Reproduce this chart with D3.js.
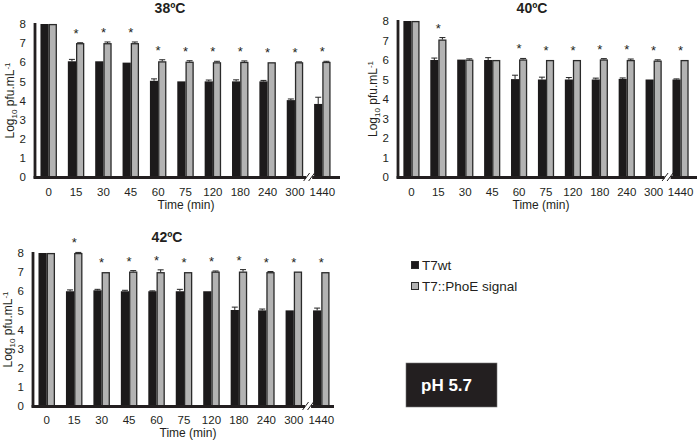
<!DOCTYPE html>
<html><head><meta charset="utf-8">
<script src="https://cdn.jsdelivr.net/npm/d3@7"></script>
<style>
html,body{margin:0;padding:0;background:#fff;}
svg{display:block;}
text{font-family:"Liberation Sans",Arial,sans-serif;fill:#231f20;}
</style></head>
<body>
<svg id="chart" width="697" height="441"></svg>
<script>
// ---------- data ----------
const categories = ["0","15","30","45","60","75","120","180","240","300","1440"];
const yTicks = [0,1,2,3,4,5,6,7,8];
const seriesNames = ["T7wt","T7::PhoE signal"];

const wt38   = [8, 6.05, 6.05, 5.98, 5.03, 5.0, 5.0, 5.0, 5.0, 4.02, 3.82];
const wt38E  = [0, 0.1, 0, 0, 0.1, 0, 0.07, 0.08, 0.05, 0.06, 0.35];
const ph38   = [8, 7.0, 7.0, 7.0, 6.05, 6.03, 6.0, 6.02, 6.0, 6.0, 6.02];
const ph38E  = [0, 0.02, 0.06, 0.06, 0.08, 0.05, 0.05, 0.05, 0, 0.02, 0.03];
const sig38  = [0,1,1,1,1,1,1,1,1,1,1];

const wt40   = [8, 6.0, 6.02, 6.0, 5.02, 5.0, 5.0, 5.0, 5.03, 5.0, 5.0];
const wt40E  = [0, 0.1, 0, 0.12, 0.2, 0.12, 0.1, 0.07, 0.05, 0, 0.03];
const ph40   = [8, 7.05, 6.02, 6.0, 6.03, 6.0, 6.0, 6.03, 6.0, 5.97, 6.0];
const ph40E  = [0, 0.1, 0.04, 0, 0.05, 0, 0, 0.04, 0.05, 0.04, 0];
const sig40  = [0,1,0,0,1,1,1,1,1,1,1];

const wt42   = [8, 6.0, 6.05, 6.0, 6.0, 6.0, 6.0, 5.02, 5.0, 5.0, 5.0];
const wt42E  = [0, 0.07, 0.05, 0.05, 0.02, 0.1, 0, 0.15, 0.07, 0, 0.12];
const ph42   = [8, 8.0, 7.0, 7.03, 7.0, 7.0, 7.03, 7.03, 7.0, 7.03, 7.0];
const ph42E  = [0, 0.03, 0, 0.05, 0.12, 0, 0.03, 0.1, 0.03, 0, 0];
const sig42  = [0,1,1,1,1,1,1,1,1,1,1];

const titles = ["38ºC","40ºC","42ºC"];
const xTitle = "Time (min)";
const phLabel = "pH 5.7";

// ---------- layout ----------
const svg = d3.select("#chart");
const BLACK = "#1c1a1b", GREY = "#b3b3b3", DARK = "#231f20";

const panels = [
  {title: titles[0], wt: wt38, wtE: wt38E, ph: ph38, phE: ph38E, sig: sig38,
   x0: 35, x1: 336, yTop: 24, yBot: 177, axisEnd: 340, titleX: 170, titleY: 13, xtY: 196, ttlY: 209, ttlX: 186},
  {title: titles[1], wt: wt40, wtE: wt40E, ph: ph40, phE: ph40E, sig: sig40,
   x0: 398, x1: 694, yTop: 21, yBot: 177, axisEnd: 697, titleX: 532, titleY: 13, xtY: 196, ttlY: 209, ttlX: 541},
  {title: titles[2], wt: wt42, wtE: wt42E, ph: ph42, phE: ph42E, sig: sig42,
   x0: 33, x1: 335, yTop: 253, yBot: 406, axisEnd: 334, titleX: 167, titleY: 242, xtY: 424, ttlY: 437, ttlX: 188}
];

panels.forEach(p => {
  const g = svg.append("g");
  const x = d3.scaleBand().domain(categories).range([p.x0, p.x1]).padding(0);
  const y = d3.scaleLinear().domain([0, 8]).range([p.yBot, p.yTop]);
  const bw = x.bandwidth();
  const inner = d3.scaleBand().domain(seriesNames).range([bw/2 - bw*0.3, bw/2 + bw*0.3]).padding(0);
  const ibw = inner.bandwidth();

  // bars
  categories.forEach((c, i) => {
    const bx = x(c);
    // wt bar
    g.append("rect")
      .attr("x", bx + inner(seriesNames[0])).attr("width", ibw)
      .attr("y", y(p.wt[i])).attr("height", y(0) - y(p.wt[i]))
      .attr("fill", BLACK);
    // phoe bar
    g.append("rect")
      .attr("x", bx + inner(seriesNames[1]) + 0.6).attr("width", ibw - 1.2)
      .attr("y", y(p.ph[i]) + 0.6).attr("height", y(0) - y(p.ph[i]) - 0.6)
      .attr("fill", GREY).attr("stroke", "#2a2a2a").attr("stroke-width", 1.3);
    // error bars
    [[p.wt, p.wtE, 0], [p.ph, p.phE, 1]].forEach(([v, e, k]) => {
      if (e[i] > 0) {
        const cx = bx + inner(seriesNames[k]) + ibw/2;
        g.append("line").attr("x1", cx).attr("x2", cx)
          .attr("y1", y(v[i])).attr("y2", y(v[i] + e[i]))
          .attr("stroke", "#222").attr("stroke-width", 1);
        g.append("line").attr("x1", cx - 3).attr("x2", cx + 3)
          .attr("y1", y(v[i] + e[i])).attr("y2", y(v[i] + e[i]))
          .attr("stroke", "#222").attr("stroke-width", 1);
      }
    });
    // significance asterisk
    if (p.sig[i]) {
      const top = Math.max(p.ph[i] + p.phE[i], p.wt[i] + p.wtE[i]);
      g.append("text").attr("x", bx + bw/2).attr("y", y(top) - 5)
        .attr("text-anchor", "middle").attr("font-size", 13).text("*");
    }
  });

  // y axis line
  g.append("line").attr("x1", p.x0).attr("x2", p.x0)
    .attr("y1", y(8) - 1).attr("y2", y(0) + 1.5)
    .attr("stroke", DARK).attr("stroke-width", 2.8);
  // x axis line
  g.append("line").attr("x1", p.x0 - 1.4).attr("x2", p.axisEnd)
    .attr("y1", y(0) + 0.5).attr("y2", y(0) + 0.5)
    .attr("stroke", DARK).attr("stroke-width", 2.8);

  // axis break between the last two categories
  const bxp = (x(categories[9]) + x(categories[10]) + bw) / 2 + 0.5;
  g.append("rect").attr("x", bxp - 3).attr("y", y(0) - 1).attr("width", 6).attr("height", 3).attr("fill", "#fff");
  [-2.5, 2.5].forEach(dx => {
    g.append("line").attr("x1", bxp + dx - 3).attr("x2", bxp + dx + 3)
      .attr("y1", y(0) + 4).attr("y2", y(0) - 4)
      .attr("stroke", DARK).attr("stroke-width", 1);
  });

  // y tick labels
  yTicks.forEach(t => {
    g.append("text").attr("x", p.x0 - 9).attr("y", y(t)).attr("dy", "0.36em")
      .attr("text-anchor", "end").attr("font-size", 11.5).text(t);
  });
  // x tick labels
  categories.forEach(c => {
    g.append("text").attr("x", x(c) + bw/2).attr("y", p.xtY)
      .attr("text-anchor", "middle").attr("font-size", 11.5).text(c);
  });
  // axis titles
  g.append("text").attr("x", p.ttlX).attr("y", p.ttlY)
    .attr("text-anchor", "middle").attr("font-size", 12).text(xTitle);
  const yl = g.append("text")
    .attr("transform", `translate(${p.x0 - 21},${(y(0) + y(8)) / 2}) rotate(-90)`)
    .attr("text-anchor", "middle").attr("font-size", 12);
  yl.append("tspan").text("Log");
  yl.append("tspan").attr("font-size", 8).attr("dy", 3).text("10");
  yl.append("tspan").attr("dy", -3).text(" pfu.mL");
  yl.append("tspan").attr("font-size", 8).attr("dy", -4).text("-1");

  // panel title
  g.append("text").attr("x", p.titleX).attr("y", p.titleY)
    .attr("text-anchor", "middle").attr("font-size", 14).attr("font-weight", "bold").text(p.title);
});

// ---------- legend ----------
const lg = svg.append("g");
const legendColors = [BLACK, GREY];
seriesNames.forEach((s, i) => {
  const cy = 265 + i * 21;
  lg.append("rect").attr("x", 411.5).attr("y", cy - 3.5).attr("width", 7).attr("height", 7)
    .attr("fill", legendColors[i]).attr("stroke", "#2a2a2a").attr("stroke-width", 1);
  lg.append("text").attr("x", 422).attr("y", cy).attr("dy", "0.35em")
    .attr("font-family", "Lato, 'Open Sans', sans-serif").attr("font-size", 13.5).text(s);
});

// ---------- pH box ----------
svg.append("rect").attr("x", 406).attr("y", 363).attr("width", 91).attr("height", 44)
  .attr("fill", DARK).attr("stroke", "#777").attr("stroke-width", 0.6);
svg.append("text").attr("x", 421).attr("y", 385).attr("dy", "0.36em")
  .attr("font-size", 17).attr("font-weight", "bold").style("fill", "#fff").text(phLabel);
</script>
</body></html>
